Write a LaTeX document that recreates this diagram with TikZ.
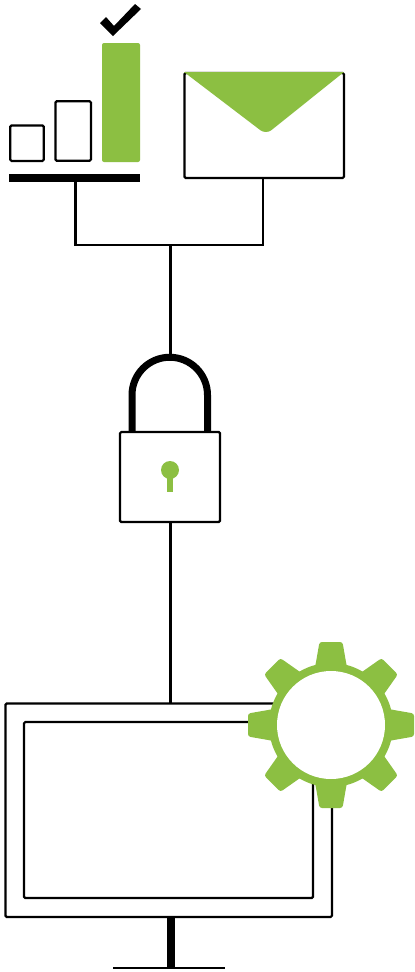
\documentclass[tikz,border=0pt]{standalone}
\definecolor{leaf}{HTML}{8CBF42}
\tikzset{
  outline/.style={draw=black,line width=2.2pt,rounded corners=1.3pt,fill=white,rectangle,inner sep=0pt,outer sep=0pt},
  conn/.style={draw=black,line width=2.2pt},
  solidbar/.style={fill=black,rectangle,inner sep=0pt,outer sep=0pt},
  greenbar/.style={fill=leaf,rectangle,inner sep=0pt,outer sep=0pt,rounded corners=2pt},
}
\begin{document}
\begin{tikzpicture}[x=1pt,y=-1pt]
\useasboundingbox (0,0) rectangle (415,972);
\fill[white] (0,0) rectangle (415,972);

% chart
\node[outline,minimum width=33.5pt,minimum height=35.5pt] (barA) at (27,143.2) {};
\node[outline,minimum width=35.5pt,minimum height=59.5pt] (barB) at (73.2,131) {};
\node[greenbar,minimum width=38pt,minimum height=119pt] (barC) at (121,102.5) {};
\node[solidbar,minimum width=131pt,minimum height=8pt] (chartbase) at (74.5,178) {};
\fill[black] (100,23) -- (106,17) -- (114,26) -- (135,4) -- (141,9) -- (113,36) -- cycle;

% envelope
\node[outline,minimum width=159.5pt,minimum height=105pt] (env) at (264.2,125.5) {};
\fill[leaf] (184,72) -- (344,72) [rounded corners=7pt] -- (266,134.5) [sharp corners] -- cycle;

% junction and upper connectors
\coordinate (join) at (170.5,245);
\coordinate (shackletop) at (170.5,356);
\draw[conn] ([xshift=1pt]chartbase.south) |- (join) -| ([xshift=-1.2pt]env.south);
\draw[conn] (join) -- (shackletop);

% lock
\draw[black,line width=7pt] (132,434) -- (132,395) arc[start angle=180,end angle=360,x radius=37.75pt,y radius=-37.75pt] -- (207.5,434);
\node[outline,minimum width=100pt,minimum height=90pt] (lock) at (170,477) {};
\fill[leaf] (170,470) circle[radius=9pt];
\node[fill=leaf,rectangle,inner sep=0pt,minimum width=6.5pt,minimum height=16pt] (keystem) at (170,484) {};

% monitor
\node[outline,minimum width=326.5pt,minimum height=213.5pt] (mon) at (168.7,810.2) {};
\node[outline,minimum width=289pt,minimum height=176pt] (screen) at (168.5,810) {};
\draw[conn] ([xshift=.5pt]lock.south) -- ([xshift=.5pt]lock.south |- mon.north);
\node[solidbar,minimum width=7.5pt,minimum height=51pt] (stand) at (171.2,942.5) {};
\node[solidbar,minimum width=112pt,minimum height=2.2pt] (standbase) at (169,967.8) {};

% gear
\coordinate (gearc) at (331,725);
\foreach \a in {0,45,...,315}{
  \begin{scope}[shift={(gearc)},rotate=\a]
    \fill[leaf,rounded corners=2.5pt] (-16.5,-56) -- (-15.5,-60) -- (-11.5,-83) -- (11.5,-83) -- (15.5,-60) -- (16.5,-56) -- cycle;
  \end{scope}
}
\fill[leaf] (gearc) circle[radius=62pt];
\node[circle,fill=white,inner sep=0pt,outer sep=0pt,minimum size=108pt] (gear) at (gearc) {};
\end{tikzpicture}
\end{document}
